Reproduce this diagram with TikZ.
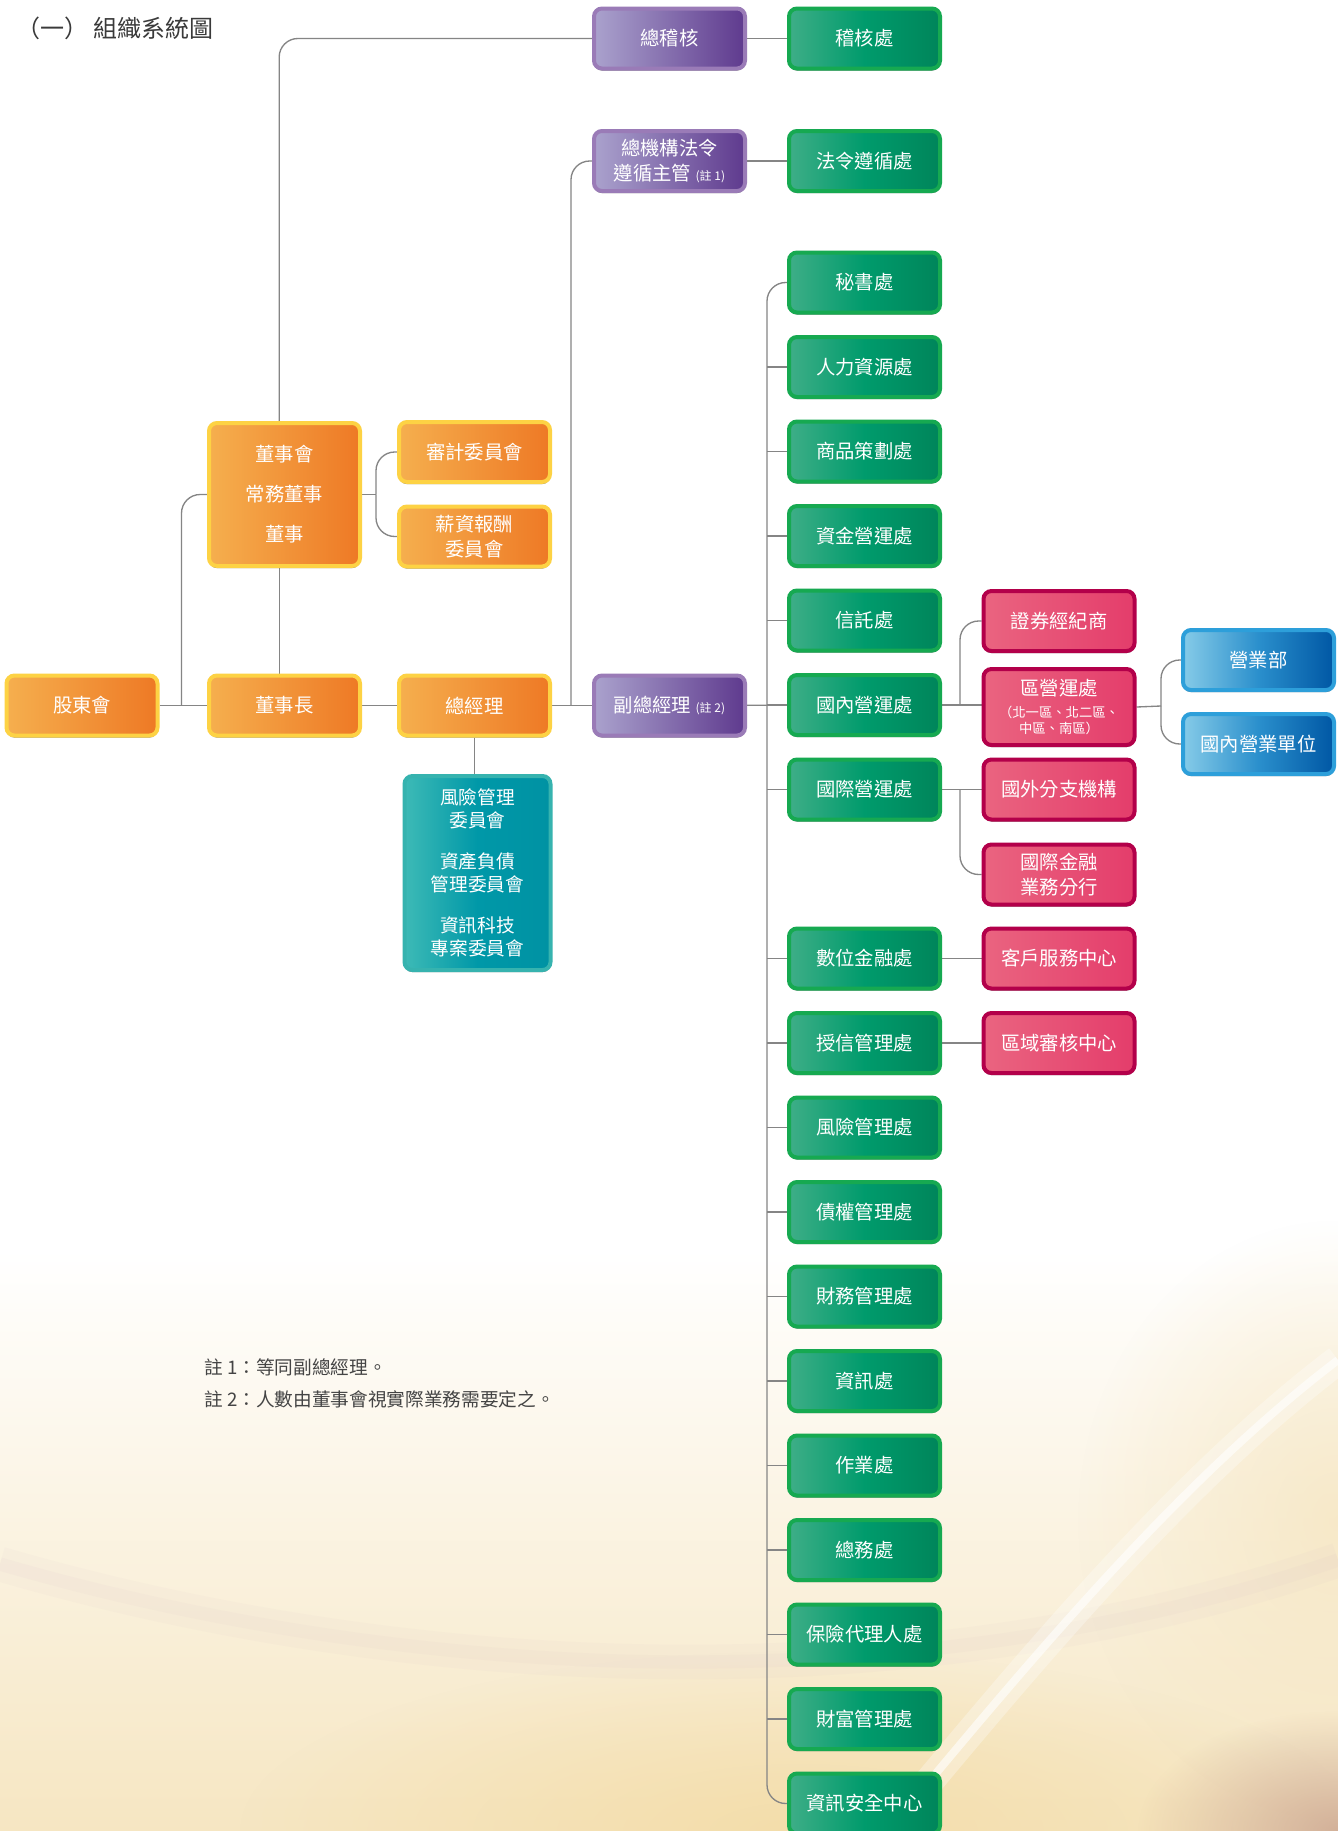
\documentclass[tikz,border=0pt]{standalone}
\usepackage{fontspec}
\setmainfont{Noto Sans CJK TC}
\usetikzlibrary{shadows,fadings}
\definecolor{conn}{HTML}{858585}
\definecolor{oL}{HTML}{F5AF4E}\definecolor{oR}{HTML}{EE7925}\definecolor{oB}{HTML}{FDD244}
\definecolor{pL}{HTML}{AAA2CD}\definecolor{pR}{HTML}{5F3A8E}\definecolor{pB}{HTML}{9A7BB7}
\definecolor{gL}{HTML}{3EAE87}\definecolor{gM}{HTML}{009B6C}\definecolor{gR}{HTML}{00855A}\definecolor{gB}{HTML}{16A951}
\definecolor{rL}{HTML}{EA6480}\definecolor{rR}{HTML}{E43D6B}\definecolor{rB}{HTML}{B3004A}
\definecolor{bL}{HTML}{86CBE8}\definecolor{bM}{HTML}{2A8FCC}\definecolor{bR}{HTML}{0057A4}\definecolor{bB}{HTML}{2D9FDA}
\definecolor{tL}{HTML}{3DBAB6}\definecolor{tM}{HTML}{0098A8}\definecolor{tR}{HTML}{0092A3}\definecolor{tB}{HTML}{36B3AF}
\definecolor{titleC}{HTML}{3A3A3A}
\definecolor{noteC}{HTML}{444444}
\definecolor{cream}{HTML}{F6E6C2}
\definecolor{creamD}{HTML}{F3DBA4}
\definecolor{lav}{HTML}{C8A8C0}
\definecolor{brownish}{HTML}{C49A88}
\tikzfading[name=softglow, inner color=transparent!0, outer color=transparent!100]
\pgfdeclarelayer{back}
\pgfdeclarelayer{lines}
\pgfsetlayers{back,lines,main}
\tikzset{
 box/.style={rounded corners=6pt, line width=3pt, minimum width=113.25pt, minimum height=45pt,
   inner sep=0pt, align=center, text=white, font=\fontsize{14.5}{19}\selectfont,
   general shadow={fill=black, opacity=.5, shadow yshift=-1.6pt}},
 orangebox/.style={box, draw=oB, left color=oL, right color=oR},
 purplebox/.style={box, draw=pB, left color=pL, right color=pR},
 greenbox/.style={box, draw=gB, left color=gL, right color=gR, middle color=gM},
 redbox/.style={box, draw=rB, left color=rL, right color=rR},
 bluebox/.style={box, draw=bB, left color=bL, right color=bR, middle color=bM},
 tealbox/.style={box, draw=tB, left color=tL, right color=tR, middle color=tM},
 link/.style={draw=conn, line width=1pt},
 elbow/.style={link, rounded corners=14pt},
}
\begin{document}
\begin{tikzpicture}[x=0.75pt,y=-0.75pt]
\useasboundingbox (0,0) rectangle (1338,1831);
% ---------- nodes ----------
\node[anchor=west, inner sep=0pt, text=titleC, font=\fontsize{18}{21}\selectfont] (title) at (16,28) {（一） 組織系統圖};
\node[anchor=west, inner sep=0pt, text=noteC, font=\fontsize{14}{16}\selectfont] (n1) at (204,1367) {註 1：等同副總經理。};
\node[anchor=west, inner sep=0pt, text=noteC, font=\fontsize{14}{16}\selectfont] (n2) at (204,1399) {註 2：人數由董事會視實際業務需要定之。};

\node[purplebox] (zj) at (669.5,38.5) {總稽核};
\node[greenbox] (jh) at (864.5,38.5) {稽核處};
\node[purplebox] (fz) at (669.5,161) {總機構法令\\遵循主管 {\fontsize{9}{9}\selectfont (註 1)}};
\node[greenbox] (fl) at (864.5,161) {法令遵循處};

\node[orangebox] (gd) at (82,705.5) {股東會};
\node[orangebox] (dsz) at (284.5,705.5) {董事長};
\node[orangebox] (zjl) at (474.5,705.5) {總經理};
\node[purplebox] (fzjl) at (669.5,705.5) {副總經理 {\fontsize{9}{9}\selectfont (註 2)}};
\node[orangebox, minimum height=107.25pt, font=\fontsize{14.5}{30}\selectfont] (dsh) at (284.5,494.5) {董事會\\常務董事\\董事};
\node[orangebox] (sj) at (474.5,452) {審計委員會};
\node[orangebox] (xz) at (474.5,536.5) {薪資報酬\\委員會};
\node[tealbox, minimum width=109.5pt, minimum height=145.5pt, font=\fontsize{14}{17.5}\selectfont] (cm) at (477.5,873)
 {風險管理\\委員會\\[13pt]資產負債\\管理委員會\\[13pt]資訊科技\\專案委員會};

\node[greenbox] (g0) at (864.5,282.5) {秘書處};
\node[greenbox] (g1) at (864.5,367) {人力資源處};
\node[greenbox] (g2) at (864.5,451.5) {商品策劃處};
\node[greenbox] (g3) at (864.5,536) {資金營運處};
\node[greenbox] (g4) at (864.5,620.5) {信託處};
\node[greenbox] (g5) at (864.5,705) {國內營運處};
\node[greenbox] (g6) at (864.5,789.5) {國際營運處};
\node[greenbox] (g8) at (864.5,958.5) {數位金融處};
\node[greenbox] (g9) at (864.5,1043) {授信管理處};
\node[greenbox] (g10) at (864.5,1127.5) {風險管理處};
\node[greenbox] (g11) at (864.5,1212) {債權管理處};
\node[greenbox] (g12) at (864.5,1296.5) {財務管理處};
\node[greenbox] (g13) at (864.5,1381) {資訊處};
\node[greenbox] (g14) at (864.5,1465.5) {作業處};
\node[greenbox] (g15) at (864.5,1550) {總務處};
\node[greenbox] (g16) at (864.5,1634.5) {保險代理人處};
\node[greenbox] (g17) at (864.5,1719) {財富管理處};
\node[greenbox] (g18) at (864.5,1803.5) {資訊安全中心};

\node[redbox] (zq) at (1059,621) {證券經紀商};
\node[redbox, minimum height=57pt, font=\fontsize{10}{12}\selectfont] (qy) at (1059,707)
 {{\fontsize{14.5}{18}\selectfont 區營運處}\\[5pt]（北一區、北二區、\\中區、南區）};
\node[redbox] (gw) at (1059,789.5) {國外分支機構};
\node[redbox] (gj) at (1059,874.5) {國際金融\\業務分行};
\node[redbox] (kf) at (1059,958.5) {客戶服務中心};
\node[redbox] (qs) at (1059,1043) {區域審核中心};

\node[bluebox] (yy) at (1258.5,660) {營業部};
\node[bluebox] (gn) at (1258.5,744) {國內營業單位};

% ---------- background ----------
\begin{pgfonlayer}{back}
\fill[white] (0,0) rectangle (1338,1831);
\shade[top color=white, bottom color=cream] (0,1250) rectangle (1338,1831);
\fill[cream, opacity=.8, path fading=softglow] (1338,1520) ellipse (260 and 300);
\fill[creamD, opacity=.8, path fading=softglow] (800,1831) ellipse (560 and 180);
\fill[brownish, opacity=.7, path fading=softglow] (1338,1831) ellipse (200 and 120);
\draw[lav, line width=26pt, opacity=.05] (0,1564) .. controls (400,1680) and (900,1710) .. (1338,1560);
\draw[lav, line width=10pt, opacity=.06] (0,1564) .. controls (400,1680) and (900,1710) .. (1338,1560);
\draw[white, line width=22pt, opacity=.3] (888,1831) .. controls (1030,1660) and (1180,1480) .. (1338,1360);
\draw[white, line width=6pt, opacity=.6] (888,1831) .. controls (1030,1660) and (1180,1480) .. (1338,1360);
\end{pgfonlayer}

% ---------- connectors ----------
\begin{pgfonlayer}{lines}
\draw[link] (gd) -- (dsz);
\coordinate (j1) at (181.5,705.5);
\draw[elbow] (j1) |- (dsh.west);
\draw[link] ([xshift=-4pt]dsh.south) -- ([xshift=-4pt]dsz.north);
\draw[elbow] ([xshift=-4pt]dsh.north) |- (zj.west);
\coordinate (j2) at (376,494.5);
\draw[link] (dsh.east) -- (j2);
\draw[elbow] (j2) |- (sj.west);
\draw[elbow] (j2) |- (xz.west);
\draw[link] (dsz) -- (zjl);
\draw[link] (zjl) -- (fzjl);
\coordinate (j3) at (571,705.5);
\draw[elbow] (j3) |- (fz.west);
\draw[link] (zjl.south) -- (zjl.south |- cm.north);
\draw[link] (zj) -- (jh);
\draw[link] (fz) -- (fl);
\draw[link] (fzjl) -- (g5);
\coordinate (trunk) at (767,705);
\draw[elbow] (g0.west) -| (trunk) |- (g18.west);
\foreach \k in {1,2,3,4,5,6,8,9,10,11,12,13,14,15,16,17}
  \draw[link] (g\k.west) -- (g\k.west -| trunk);
\coordinate (j5) at (960,705);
\draw[link] (g5.east) -- (g5.east -| qy.west);
\draw[elbow] (j5) |- (zq.west);
\draw[link] (g6) -- (gw);
\coordinate (j6) at (960,789.5);
\draw[elbow] (j6) |- (gj.west);
\draw[link] (g8) -- (kf);
\draw[link] (g9) -- (qs);
\coordinate (j7) at (1161,706);
\draw[link] (qy.east) -- (j7);
\draw[elbow] (j7) |- (yy.west);
\draw[elbow] (j7) |- (gn.west);
\end{pgfonlayer}
\end{tikzpicture}
\end{document}
